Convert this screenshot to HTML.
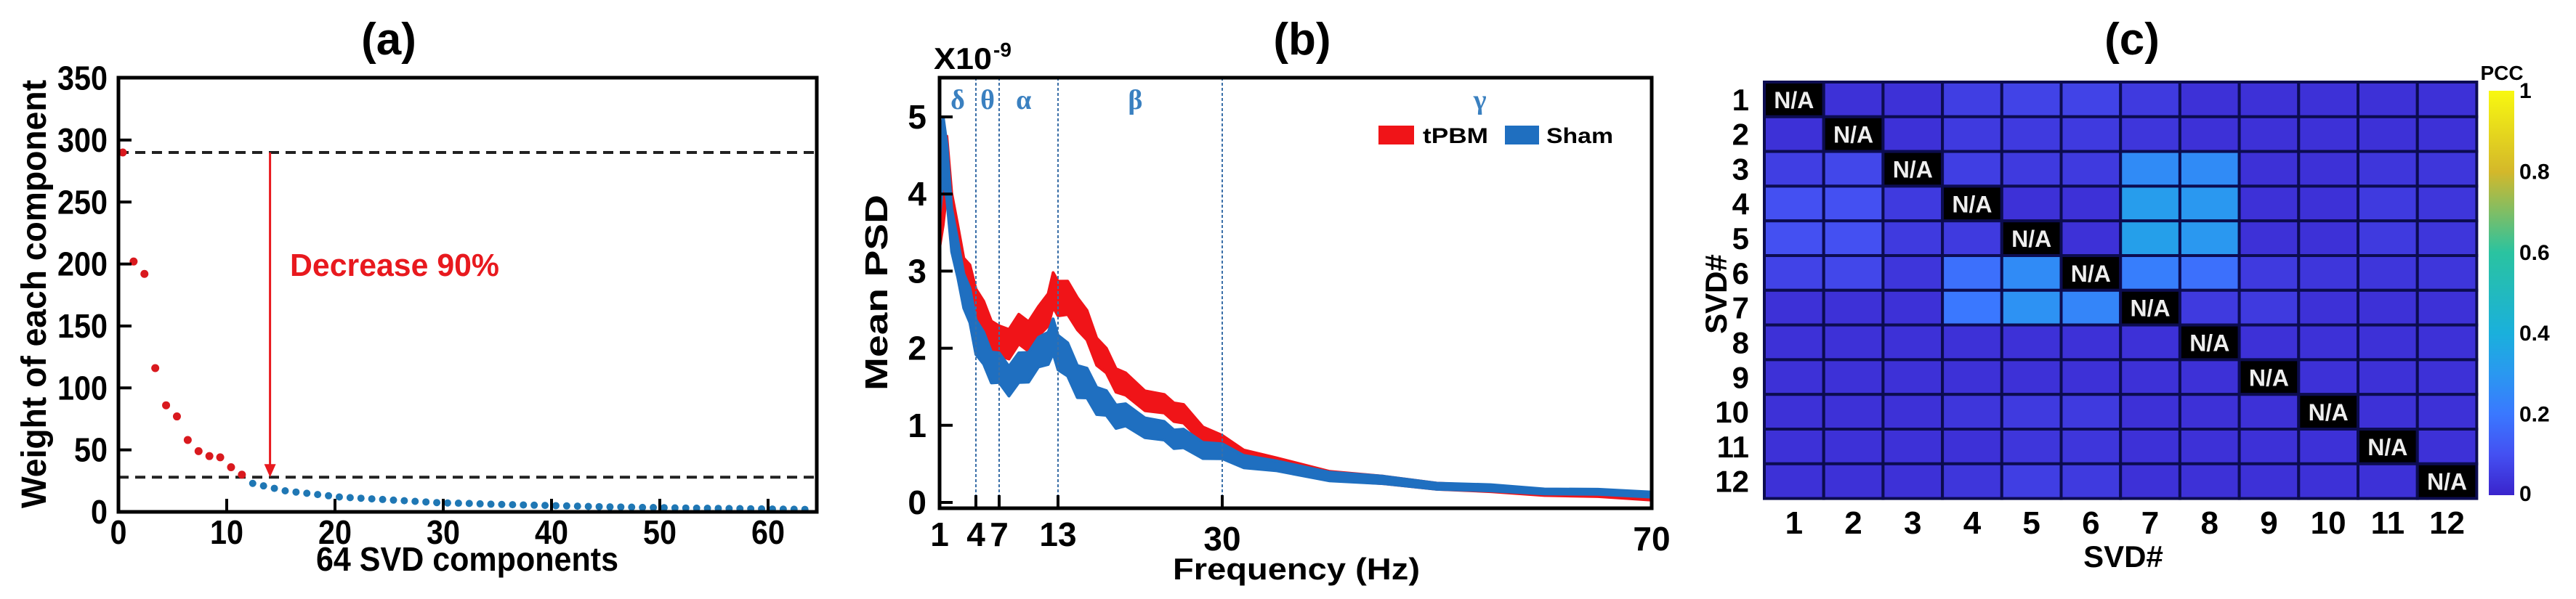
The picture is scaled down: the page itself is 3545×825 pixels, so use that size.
<!DOCTYPE html>
<html><head><meta charset="utf-8"><style>
html,body{margin:0;padding:0;background:#fff;}
svg{display:block;}
text{font-family:"Liberation Sans",sans-serif;font-weight:bold;}
</style></head><body>
<svg id="fig" width="3545" height="825" viewBox="0 0 3545 825" xmlns="http://www.w3.org/2000/svg">
<g id="pa"></g>
<g id="pb"></g>
<g id="pc"></g>
</svg>
<script>
// ---------- Panel (a) data ----------
const aRedValues = [290,202,192,116,86,77,58,49,45,44,36,30];
const aBlueValues = [23,21,19,17,16,15,14,13,12,11.5,11,10.5,10,9.5,9,8.5,8,7.5,7.2,7,6.8,6.5,6.2,6,5.8,5.6,5.4,5.2,5,4.8,4.6,4.4,4.2,4,3.9,3.8,3.6,3.5,3.4,3.2,3.1,3,2.9,2.8,2.7,2.6,2.5,2.4,2.3,2.2,2.1,2];
const aYTicks = [0,50,100,150,200,250,300,350];
const aXTicks = [0,10,20,30,40,50,60];
const aRefLines = [290,28];

// ---------- Panel (b) data ----------
const bFreqs = [1,1.3,1.6,2,2.5,3,3.5,4,5,6,7,8,9,10,11,12,12.5,13,14,15,16,17,18,19,20,22,24,25,26,28,30,32,35,40,45,50,55,60,65,70];
const bTpbm  = [3.6,4.1,4.3,3.8,3.3,3.0,2.8,2.6,2.35,2.2,2.05,2.1,2.2,2.2,2.3,2.55,2.7,2.7,2.6,2.5,2.25,2.0,1.8,1.62,1.5,1.35,1.25,1.2,1.12,0.9,0.75,0.62,0.5,0.36,0.28,0.22,0.17,0.13,0.1,0.07];
const bSham  = [4.0,4.7,4.2,3.6,3.1,2.8,2.5,2.2,1.95,1.8,1.7,1.62,1.7,1.8,1.9,2.05,2.1,2.0,1.8,1.62,1.5,1.36,1.25,1.15,1.1,1.0,0.9,0.85,0.8,0.7,0.64,0.55,0.46,0.35,0.28,0.22,0.18,0.15,0.13,0.11];
const bSpread = [0.5,0.5,0.45,0.35,0.3,0.28,0.28,0.28,0.26,0.25,0.24,0.24,0.24,0.24,0.24,0.26,0.28,0.28,0.27,0.26,0.24,0.22,0.2,0.19,0.18,0.16,0.15,0.15,0.15,0.13,0.12,0.1,0.08,0.07,0.06,0.05,0.05,0.04,0.04,0.04];
const bYTicks = [0,1,2,3,4,5];
const bXTicks = [1,4,7,13,30,70];
const bBandEdges = [4,7,13,30];
const bBandNames = ["δ","θ","α","β","γ"];
const bBandCenters = [2.5,5.5,9.5,21,54];

// ---------- Panel (c) data ----------
const cLabels = ["1","2","3","4","5","6","7","8","9","10","11","12"];
const cMatrix = [
 [null,0.03,0.03,0.06,0.07,0.07,0.05,0.03,0.03,0.03,0.03,0.03],
 [0.03,null,0.03,0.05,0.05,0.05,0.04,0.03,0.03,0.03,0.03,0.03],
 [0.06,0.08,null,0.06,0.05,0.05,0.26,0.26,0.03,0.03,0.04,0.04],
 [0.1,0.1,0.05,null,0.03,0.03,0.32,0.3,0.03,0.03,0.05,0.04],
 [0.1,0.1,0.05,0.05,null,0.03,0.33,0.3,0.03,0.03,0.05,0.04],
 [0.07,0.08,0.04,0.18,0.26,null,0.22,0.18,0.05,0.04,0.04,0.04],
 [0.03,0.03,0.03,0.2,0.28,0.24,null,0.05,0.05,0.03,0.03,0.03],
 [0.03,0.03,0.03,0.03,0.03,0.03,0.03,null,0.03,0.03,0.03,0.03],
 [0.03,0.03,0.03,0.03,0.03,0.03,0.03,0.03,null,0.03,0.03,0.03],
 [0.03,0.03,0.03,0.04,0.05,0.05,0.03,0.03,0.03,null,0.03,0.03],
 [0.03,0.03,0.03,0.03,0.04,0.04,0.03,0.03,0.03,0.03,null,0.03],
 [0.03,0.03,0.03,0.04,0.06,0.05,0.03,0.03,0.03,0.03,0.03,null]
];
const cBarTicks = [0,0.2,0.4,0.6,0.8,1];
const cBarTickLabels = ["0","0.2","0.4","0.6","0.8","1"];

const NS="http://www.w3.org/2000/svg";
function mk(parent, tag, attrs, txt){
  const e=document.createElementNS(NS,tag);
  for(const k in attrs) e.setAttribute(k,attrs[k]);
  if(txt!==undefined) e.textContent=txt;
  parent.appendChild(e); return e;
}

// ================= Panel A =================
(function(){
  const g=document.getElementById('pa');
  const X0=163, XS=14.9, Y0=705, YS=1.707;
  const xa=v=>X0+v*XS, ya=v=>Y0-v*YS;
  let t=mk(g,'text',{x:535,y:75,'font-size':62,'text-anchor':'middle'},'(a)');
  
  
  aRefLines.forEach(v=>{
    const l=mk(g,'line',{x1:xa(0),x2:1124,y1:ya(v),y2:ya(v),stroke:'#222','stroke-width':4,'stroke-dasharray':'14 9'});
    
    
  });
  const ar=mk(g,'line',{x1:xa(14),x2:xa(14),y1:ya(aRefLines[0]),y2:ya(aRefLines[1])-14,stroke:'#e8191e','stroke-width':3});
  
  
  const ah=mk(g,'path',{d:`M${xa(14)-8},${ya(aRefLines[1])-18} L${xa(14)+8},${ya(aRefLines[1])-18} L${xa(14)},${ya(aRefLines[1])} Z`,fill:'#e8191e'});
  
  
  t=mk(g,'text',{x:399,y:380,'font-size':44,fill:'#e8191e',textLength:288,lengthAdjust:'spacingAndGlyphs'},'Decrease 90%');
  
  
  aRedValues.forEach((v,i)=>{
    const c=mk(g,'circle',{cx:xa(i+1-0.6),cy:ya(v),r:5.5,fill:'#d9191e'});
    
    
  });
  aBlueValues.forEach((v,i)=>{
    const c=mk(g,'circle',{cx:xa(i+aRedValues.length+1-0.6),cy:ya(v),r:5,fill:'#1f77b4'});
    
    
  });
  const fr=mk(g,'rect',{x:163,y:107,width:961,height:598,fill:'none',stroke:'#000','stroke-width':5});
  
  
  aYTicks.forEach(v=>{
    mk(g,'line',{x1:X0,x2:X0+18,y1:ya(v),y2:ya(v),stroke:'#000','stroke-width':4});
    const s=String(v);
    const tt=mk(g,'text',{x:148,y:ya(v)+16,'font-size':46,'text-anchor':'end',textLength:s.length*23,lengthAdjust:'spacingAndGlyphs'},s);
    
    
  });
  aXTicks.forEach(v=>{
    mk(g,'line',{x1:xa(v),x2:xa(v),y1:Y0,y2:Y0-18,stroke:'#000','stroke-width':4});
    const s=String(v);
    const tt=mk(g,'text',{x:xa(v),y:749,'font-size':46,'text-anchor':'middle',textLength:s.length*23,lengthAdjust:'spacingAndGlyphs'},s);
    
    
  });
  t=mk(g,'text',{x:643,y:786,'font-size':46,'text-anchor':'middle',textLength:416,lengthAdjust:'spacingAndGlyphs'},'64 SVD components');
  
  
  t=mk(g,'text',{x:0,y:0,'font-size':48,'text-anchor':'middle',textLength:590,lengthAdjust:'spacingAndGlyphs',transform:'translate(63,405) rotate(-90)'},'Weight of each component');
  
  
})();

// ================= Panel B =================
(function(){
  const g=document.getElementById('pb');
  const knotsV=[1,4,7,13,30,70], knotsP=[1293,1343,1375,1456,1682,2273];
  const xb=f=>{for(let i=0;i<knotsV.length-1;i++){if(f<=knotsV[i+1]){return knotsP[i]+(f-knotsV[i])/(knotsV[i+1]-knotsV[i])*(knotsP[i+1]-knotsP[i]);}}return knotsP[knotsP.length-1];};
  const Y0=692, YS=106.2;
  const yb=v=>Y0-v*YS;
  let t=mk(g,'text',{x:1792,y:75,'font-size':62,'text-anchor':'middle'},'(b)');
  
  
  t=mk(g,'text',{x:1285,y:95,'font-size':42,textLength:80,lengthAdjust:'spacingAndGlyphs'},'X10');
  
  
  t=mk(g,'text',{x:1367,y:78,'font-size':28},'-9');
  
  
  function band(vals,color,name){
    let up=[],lo=[];
    bFreqs.forEach((f,i)=>{
      const s=bSpread[i];
      up.push(xb(f).toFixed(1)+','+yb(vals[i]+s*(i%2?0.6:1)).toFixed(1));
      lo.push(xb(f).toFixed(1)+','+yb(Math.max(0,vals[i]-s*(i%2?1:0.6))).toFixed(1));
    });
    const p=mk(g,'polygon',{points:up.concat(lo.reverse()).join(' '),fill:color,stroke:color,'stroke-width':4,'stroke-linejoin':'round'});
    
    
  }
  band(bTpbm,'#f01418','tpbm-series');
  band(bSham,'#1f6fc0','sham-series');
  bBandEdges.forEach(f=>{
    const l=mk(g,'line',{x1:xb(f),x2:xb(f),y1:107,y2:700,stroke:'#3a6fa8','stroke-width':2,'stroke-dasharray':'4 3'});
    
    
  });
  bBandNames.forEach((n,i)=>{
    const tt=mk(g,'text',{x:xb(bBandCenters[i]),y:150,'text-anchor':'middle',fill:'#3a80c0',style:'font-family:"Liberation Serif",serif;font-size:38px;font-weight:bold;'},n);
    
    
  });
  const fr=mk(g,'rect',{x:1293,y:107,width:980,height:593,fill:'none',stroke:'#000','stroke-width':5});
  
  
  bYTicks.forEach(v=>{
    mk(g,'line',{x1:1293,x2:1311,y1:yb(v),y2:yb(v),stroke:'#000','stroke-width':4});
    const tt=mk(g,'text',{x:1275,y:yb(v)+16,'font-size':46,'text-anchor':'end'},String(v));
    
    
  });
  bXTicks.forEach(v=>{
    mk(g,'line',{x1:xb(v),x2:xb(v),y1:700,y2:682,stroke:'#000','stroke-width':4});
    const tt=mk(g,'text',{x:xb(v),y:v===30||v===70?758:752,'font-size':46,'text-anchor':'middle'},String(v));
    
    
  });
  t=mk(g,'text',{x:1784,y:798,'font-size':42,'text-anchor':'middle',textLength:340,lengthAdjust:'spacingAndGlyphs'},'Frequency (Hz)');
  
  
  t=mk(g,'text',{x:0,y:0,'font-size':44,'text-anchor':'middle',textLength:270,lengthAdjust:'spacingAndGlyphs',transform:'translate(1221,403) rotate(-90)'},'Mean PSD');
  
  
  let r=mk(g,'rect',{x:1897,y:173,width:49,height:26,fill:'#f01418'});
  
  
  t=mk(g,'text',{x:1958,y:197,'font-size':30,textLength:90,lengthAdjust:'spacingAndGlyphs'},'tPBM');
  
  
  r=mk(g,'rect',{x:2071,y:173,width:47,height:26,fill:'#1f6fc0'});
  
  
  t=mk(g,'text',{x:2128,y:197,'font-size':30,textLength:92,lengthAdjust:'spacingAndGlyphs'},'Sham');
  
  
})();

// ================= Panel C =================
(function(){
  const g=document.getElementById('pc');
  const L=2428, T=113, CW=81.7, CH=47.8;
  const stops=[[0,[58,36,204]],[0.1,[68,80,242]],[0.2,[58,120,255]],[0.3,[42,152,240]],[0.4,[26,176,220]],[0.6,[42,195,160]],[0.8,[212,184,42]],[1,[248,248,16]]];
  function cmap(v){
    for(let i=0;i<stops.length-1;i++){
      if(v<=stops[i+1][0]){const a=stops[i],b=stops[i+1],f=(v-a[0])/(b[0]-a[0]);
        return 'rgb('+a[1].map((c,k)=>Math.round(c+(b[1][k]-c)*f)).join(',')+')';}
    }
    return 'rgb(248,248,16)';
  }
  let t=mk(g,'text',{x:2934,y:75,'font-size':62,'text-anchor':'middle'},'(c)');
  
  
  cMatrix.forEach((row,r)=>{
    row.forEach((v,c)=>{
      const rc=mk(g,'rect',{x:L+c*CW,y:T+r*CH,width:CW,height:CH,fill:v===null?'#000':cmap(v),stroke:'#0c0c50','stroke-width':4});
      
      
      if(v===null){
        const tt=mk(g,'text',{x:L+c*CW+CW/2,y:T+r*CH+CH/2+12,'font-size':32,'text-anchor':'middle',fill:'#eee'},'N/A');
        
        
      }
    });
  });
  cLabels.forEach((s,i)=>{
    let tt=mk(g,'text',{x:2407,y:T+i*CH+CH/2+15,'font-size':42,'text-anchor':'end'},s);
    
    
    tt=mk(g,'text',{x:L+i*CW+CW/2,y:735,'font-size':44,'text-anchor':'middle'},s);
    
    
  });
  t=mk(g,'text',{x:2922,y:781,'font-size':42,'text-anchor':'middle'},'SVD#');
  
  
  t=mk(g,'text',{x:0,y:0,'font-size':42,'text-anchor':'middle',transform:'translate(2376,405) rotate(-90)'},'SVD#');
  
  
  const defs=mk(g,'defs',{});
  const lg=mk(defs,'linearGradient',{id:'parula',x1:0,y1:1,x2:0,y2:0});
  stops.forEach(s=>mk(lg,'stop',{offset:s[0],'stop-color':'rgb('+s[1].join(',')+')'}));
  const cb0=682, cb1=125;
  const yc=v=>cb0-v*(cb0-cb1);
  const cb=mk(g,'rect',{x:3425,y:cb1,width:35,height:cb0-cb1,fill:'url(#parula)'});
  
  
  cBarTicks.forEach((v,i)=>{
    const tt=mk(g,'text',{x:3467,y:Math.min(yc(v)+10,690),'font-size':30},cBarTickLabels[i]);
    
    
  });
  t=mk(g,'text',{x:3443,y:110,'font-size':28,'text-anchor':'middle'},'PCC');
  
  
})();
</script>
</body></html>
